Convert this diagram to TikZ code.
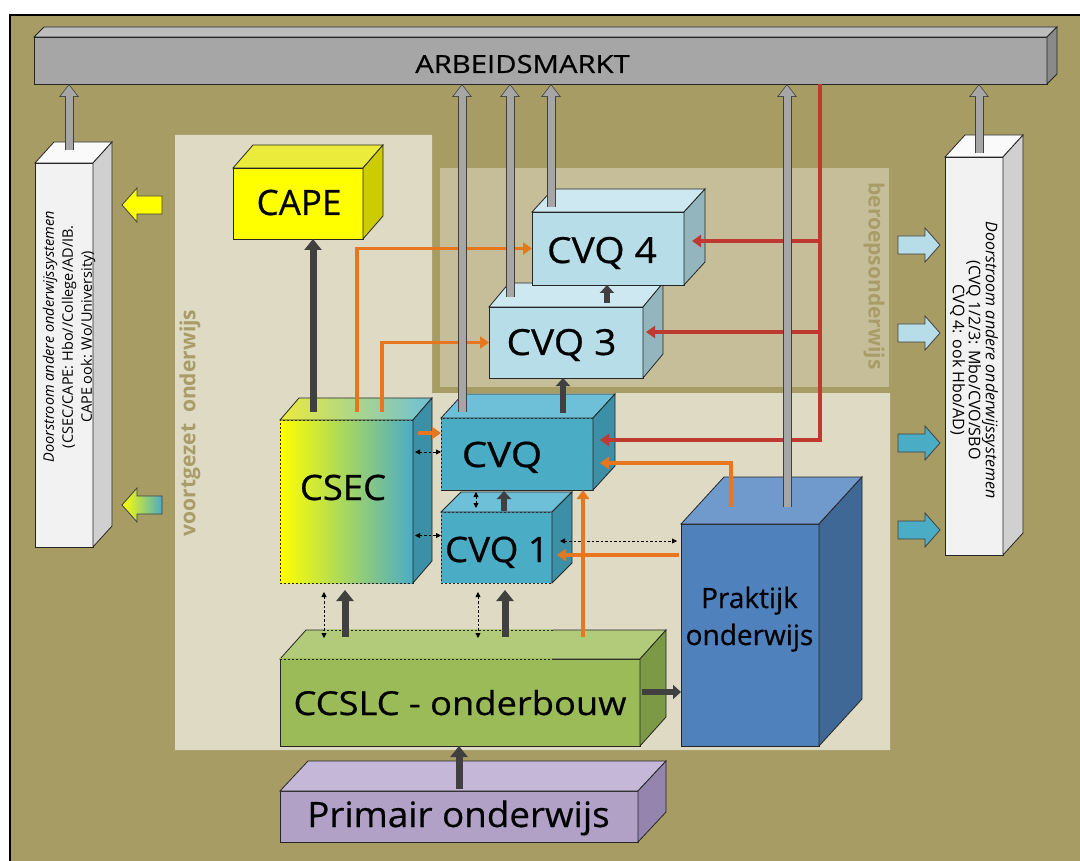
\documentclass[tikz,border=0pt]{standalone}
\usepackage{fontspec}
\usepackage{graphicx}
\setmainfont{Open Sans}
\newfontfamily\lblfont{Open Sans}[FakeBold=0.5]
\usetikzlibrary{calc,arrows.meta}
\definecolor{olivebg}{HTML}{A69C64}
\definecolor{beigebg}{HTML}{DEDAC4}
\definecolor{beroepsbg}{HTML}{C6BE99}
\definecolor{paneltext}{HTML}{A89D68}
\definecolor{dk}{HTML}{404040}
\definecolor{gr}{HTML}{A6A6A6}
\definecolor{orng}{HTML}{E8761E}
\definecolor{rd}{HTML}{BE3A30}
\definecolor{arbf}{HTML}{A6A6A6}\definecolor{arbt}{HTML}{BDBDBD}\definecolor{arbs}{HTML}{8A8A8A}
\definecolor{pilf}{HTML}{F2F2F2}\definecolor{pilt}{HTML}{FAFAFA}\definecolor{pils}{HTML}{D0D0D0}
\definecolor{capef}{HTML}{FFFF00}\definecolor{capet}{HTML}{EBEB3C}\definecolor{capes}{HTML}{CCCC00}
\definecolor{tealf}{HTML}{4BACC6}\definecolor{tealt}{HTML}{6DC0D8}\definecolor{teals}{HTML}{3B8FA6}
\definecolor{ltbf}{HTML}{B7DEE8}\definecolor{ltbt}{HTML}{CDE8F0}\definecolor{ltbs}{HTML}{93B5BE}
\definecolor{prf}{HTML}{4F81BD}\definecolor{prt}{HTML}{7099CC}\definecolor{prs}{HTML}{3F6896}
\definecolor{grf}{HTML}{9BBB59}\definecolor{grt}{HTML}{B1CB7B}\definecolor{grs}{HTML}{7C9A45}
\definecolor{pmf}{HTML}{B2A1C7}\definecolor{pmt}{HTML}{C4B7D7}\definecolor{pms}{HTML}{9584AE}
\newcommand\fsz[1]{\fontsize{#1}{#1}\selectfont}
\newcommand\fszb[2]{\fontsize{#1}{#2}\selectfont}
\newcommand\hs[2]{\scalebox{#1}[1]{#2}}
\newcommand\boxdepth[5]{%
  \draw[boxedge,#4] (#1.north west) -- ++(#2,-#3) -- ($(#1.north east)+(#2,-#3)$) -- (#1.north east) -- cycle;
  \draw[boxedge,#5] (#1.north east) -- ++(#2,-#3) -- ($(#1.south east)+(#2,-#3)$) -- (#1.south east) -- cycle;}
\newcommand\garrow[2]{\draw[gout] (#1) -- (#2); \draw[gin] (#1) -- (#2);}
\newcommand\leftblock[3]{\draw[#3,draw=dk,line width=0.8pt] (#1,#2) -- ++(15,-17) -- ++(0,8) -- ++(25,0) -- ++(0,18) -- ++(-25,0) -- ++(0,8) -- cycle;}
\newcommand\rightblock[3]{\draw[#3,draw=dk,line width=0.8pt] (#1,#2) -- ++(-15,-17) -- ++(0,8) -- ++(-27,0) -- ++(0,18) -- ++(27,0) -- ++(0,8) -- cycle;}
\begin{document}
\begin{tikzpicture}[x=1pt,y=-1pt,
  boxedge/.style={draw=black!85,line width=0.8pt},
  front/.style={draw=black!85,line width=0.8pt,inner sep=0pt,outer sep=0pt},
  dfront/.style={draw=black!85,line width=0.8pt,dash pattern=on 2pt off 2pt,inner sep=0pt,outer sep=0pt},
  lbl/.style={inner sep=0pt,anchor=base,text=black},
  paneltxt/.style={inner sep=0pt,text=paneltext,font=\bfseries\fsz{21}},
  oarr/.style={draw=orng,line width=3.3pt,-{Triangle[width=12pt,length=9pt]}},
  rarr/.style={draw=rd,line width=3.3pt,-{Triangle[width=12pt,length=9pt]}},
  darr/.style={draw=dk,line width=7pt,-{Triangle[width=17pt,length=11pt]}},
  sdarr/.style={draw=dk,line width=6pt,-{Triangle[width=14pt,length=8pt]}},
  dd/.style={draw=black,line width=0.8pt,dash pattern=on 2.5pt off 2pt,{Triangle[width=5pt,length=5pt]}-{Triangle[width=5pt,length=5pt]}},
  gout/.style={draw=dk,line width=9pt,-{Triangle[width=19pt,length=13pt]}},
  gin/.style={draw=gr,line width=7pt,-{Triangle[width=16pt,length=11pt]},shorten >=1.2pt}]
\useasboundingbox (0,0) rectangle (1080,861);
\fill[white] (0,0) rectangle (1080,861);
\draw[fill=olivebg,draw=black,line width=2.5pt] (10,15) rectangle (1095,880);
% panels
\fill[beigebg] (175,135) -- (432,135) -- (432,393) -- (890,393) -- (890,750) -- (175,750) -- cycle;
\fill[beroepsbg] (440,168) rectangle (889,387);
\node[paneltxt,rotate=90] (vo) at (190,423) {voortgezet\ \ onderwijs};
\node[paneltxt,rotate=-90] (bo) at (874,276) {beroepsonderwijs};
% arbeidsmarkt
\node[front,fill=arbf,minimum width=1013pt,minimum height=47pt] (arb) at (540.5,60.5) {};
\boxdepth{arb}{10}{10}{fill=arbt}{fill=arbs}
\node[lbl,font=\lblfont\fsz{25}] (arbtxt) at (522.5,73) {\hs{1.17}{ARBEIDSMARKT}};
% pillars
\node[front,fill=pilf,minimum width=58pt,minimum height=384pt] (lbox) at (64,355) {};
\boxdepth{lbox}{19}{21}{fill=pilt}{fill=pils}
\node[rotate=90,align=center,inner sep=0pt,font=\fszb{14.5}{19}] (ltxt) at (69,337) {\textit{Doorstroom andere onderwijssystemen}\\(CSEC/CAPE: Hbo//College/AD/IB.\\CAPE ook: Wo/University)};
\node[front,fill=pilf,minimum width=58pt,minimum height=398pt] (rbox) at (974,356) {};
\boxdepth{rbox}{20}{22}{fill=pilt}{fill=pils}
\node[rotate=-90,align=center,inner sep=0pt,font=\fszb{16}{16}] (rtxt) at (974,360) {\textit{Doorstroom andere onderwijssystemen}\\(CVQ 1/2/3: Mbo/CVO/SBO\\CVQ 4: ook Hbo/AD)};
% block arrows
\leftblock{122}{205}{fill=capef}
\leftblock{122}{505}{left color=capef,right color=tealf}
\rightblock{940}{245}{fill=ltbf}
\rightblock{940}{333}{fill=ltbf}
\rightblock{940}{443}{fill=tealf}
\rightblock{940}{530}{fill=tealf}
% boxes
\node[front,fill=capef,minimum width=130pt,minimum height=71pt] (cape) at (298,203.5) {};
\boxdepth{cape}{20}{23}{fill=capet}{fill=capes}
\node[dfront,left color=capef,right color=tealf,minimum width=133pt,minimum height=163pt] (csec) at (346.5,501.5) {};
\boxdepth{csec}{19}{22}{left color=capet,right color=tealt}{fill=teals}
\node[dfront,fill=tealf,minimum width=111pt,minimum height=71pt] (cvq1) at (496.5,547.5) {};
\boxdepth{cvq1}{20}{20}{fill=tealt}{fill=teals}
\node[dfront,fill=tealf,minimum width=152pt,minimum height=72pt] (cvq) at (517,454) {};
\boxdepth{cvq}{22}{24}{fill=tealt}{fill=teals}
\draw[boxedge] (cvq.south west) -- (cvq.south east);
\node[front,fill=ltbf,minimum width=154pt,minimum height=71pt] (cvq3) at (566,342.5) {};
\boxdepth{cvq3}{20}{24}{fill=ltbt}{fill=ltbs}
\node[front,fill=ltbf,minimum width=152pt,minimum height=73pt] (cvq4) at (608,248.5) {};
\boxdepth{cvq4}{21}{23}{fill=ltbt}{fill=ltbs}
\node[front,fill=prf,minimum width=138pt,minimum height=222pt] (prak) at (750,635) {};
\boxdepth{prak}{43}{47}{fill=prt}{fill=prs}
\node[front,fill=grf,minimum width=360pt,minimum height=87pt] (ccslc) at (460,702.5) {};
\boxdepth{ccslc}{26}{29}{fill=grt}{fill=grs}
\draw[grf,line width=1.2pt] (ccslc.north west) -- ($(ccslc.north west)+(272,0)$);
\draw[black!85,line width=0.8pt,dash pattern=on 2pt off 2pt] (ccslc.north west) -- ($(ccslc.north west)+(272,0)$);
\draw[grt,line width=1.2pt] ($(ccslc.north west)+(43,-29)$) -- ($(ccslc.north west)+(273,-29)$);
\draw[black!85,line width=0.8pt,dash pattern=on 2pt off 2pt] ($(ccslc.north west)+(43,-29)$) -- ($(ccslc.north west)+(273,-29)$);
\node[front,fill=pmf,minimum width=358pt,minimum height=51pt] (prim) at (459,816.5) {};
\boxdepth{prim}{28}{30}{fill=pmt}{fill=pms}
% labels
\node[lbl,font=\lblfont\fsz{35}] (capetxt) at (299,215) {CAPE};
\node[lbl,font=\lblfont\fsz{35}] (csectxt) at (343,500) {\hs{1.04}{CSEC}};
\node[lbl,font=\lblfont\fsz{35}] (cvqtxt) at (502,467) {\hs{1.15}{CVQ}};
\node[lbl,font=\lblfont\fsz{35}] (cvq1txt) at (497,562) {\hs{1.05}{CVQ 1}};
\node[lbl,font=\lblfont\fsz{36}] (cvq3txt) at (561.5,355) {\hs{1.08}{CVQ 3}};
\node[lbl,font=\lblfont\fsz{36}] (cvq4txt) at (602,263) {\hs{1.08}{CVQ 4}};
\node[lbl,font=\lblfont\fsz{28}] (praktxt) at (749.5,608) {Praktijk};
\node[lbl,font=\lblfont\fsz{28}] (prak2txt) at (749.5,645) {onderwijs};
\node[lbl,font=\lblfont\fsz{33}] (ccslctxt) at (460,715) {\hs{1.1}{CCSLC - onderbouw}};
\node[lbl,font=\lblfont\fsz{35}] (primtxt) at (458.5,827) {\hs{1.05}{Primair onderwijs}};
% dashed double arrows
\draw[dd] ($(csec.east |- cvq.west)+(2,-2)$) -- ($(cvq.west)+(0,-2)$);
\draw[dd] ($(csec.east |- cvq1.west)+(2,-12)$) -- ($(cvq1.west)+(0,-12)$);
\draw[dd] ($(cvq1.east)+(8,-6.5)$) -- ($(prak.west |- cvq1.east)+(-4,-6.5)$);
\draw[dd] ($(cvq.south)+(-41,2)$) -- ($(cvq.south)+(-41,18)$);
\draw[dd] ($(csec.south)+(-22.5,9)$) -- ($(ccslc.north)+(-136,-21)$);
\draw[dd] ($(cvq1.south)+(-18.5,9)$) -- ($(ccslc.north)+(18,-21)$);
% orange
\coordinate (o1) at ($(csec.north)+(10.5,-8)$);
\coordinate (o2) at ($(csec.north)+(35.5,-8)$);
\coordinate (o4) at ($(prak.north)+(-19,-17)$);
\coordinate (o5) at ($(ccslc.north)+(123,-22)$);
\draw[oarr] (o1) |- (cvq4.west);
\draw[oarr] (o2) |- (cvq3.west);
\draw[oarr] ($(csec.east |- cvq.west)+(5,-21)$) -- ($(cvq.west)+(0,-21)$);
\draw[oarr] (o4) |- ($(cvq.east)+(7,9)$);
\draw[oarr] (o5) -- (o5 |- cvq.south);
\draw[oarr] ($(prak.west)+(-2,-80)$) -- ($(cvq1.east)+(5,7.5)$);
% red
\coordinate (rt) at ($(arb.south)+(279.5,0)$);
\draw[rarr] (rt) |- ($(cvq.east)+(7,-14)$);
\draw[rarr] ($(rt |- cvq4.east)+(0,-7.5)$) -- ($(cvq4.east)+(8,-7.5)$);
\draw[rarr] ($(rt |- cvq3.east)+(0,-10.5)$) -- ($(cvq3.east)+(3,-10.5)$);
% dark arrows
\draw[darr] ($(csec.north)+(-33.5,-8)$) -- ($(cape.south)+(15,0)$);
\draw[darr] ($(ccslc.north)+(-115,-22)$) -- ($(csec.south)+(-1.5,7)$);
\draw[darr] ($(ccslc.north)+(45,-22)$) -- ($(cvq1.south)+(8.5,7)$);
\draw[sdarr] ($(cvq1.north)+(7.5,-1)$) -- ($(cvq.south)+(-13,1)$);
\draw[sdarr] ($(cvq.north)+(46,-5)$) -- ($(cvq3.south)+(-3,0)$);
\draw[sdarr] ($(cvq3.north)+(41,-4)$) -- ($(cvq4.south)+(-1,0)$);
\draw[darr] ($(prim.north)+(0,-2)$) -- (ccslc.south -| prim.north);
\draw[sdarr] ($(ccslc.east)+(2,-10.5)$) -- ($(prak.west |- ccslc.east)+(0,-10.5)$);
% gray arrows to arbeidsmarkt
\coordinate (g1) at ($(lbox.north)+(5,-13)$);
\coordinate (g2) at ($(cvq.north)+(-55,-6)$);
\coordinate (g3) at ($(cvq3.north)+(-56,-10)$);
\coordinate (g4) at ($(cvq4.north)+(-57,-5)$);
\coordinate (g5) at ($(prak.north)+(37,-17)$);
\coordinate (g6) at ($(rbox.north)+(5,-4)$);
\garrow{g1}{arb.south -| g1}
\garrow{g2}{arb.south -| g2}
\garrow{g3}{arb.south -| g3}
\garrow{g4}{arb.south -| g4}
\garrow{g5}{arb.south -| g5}
\garrow{g6}{arb.south -| g6}
\end{tikzpicture}
\end{document}
